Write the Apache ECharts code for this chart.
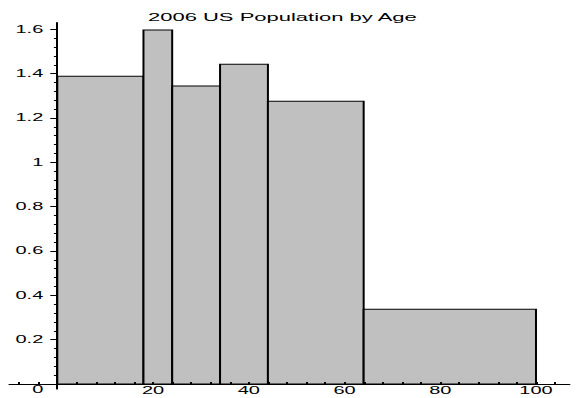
<!DOCTYPE html>
<html>
<head>
<meta charset="utf-8">
<script src="https://cdn.jsdelivr.net/npm/echarts@6/dist/echarts.min.js"></script>
<style>
html,body{margin:0;padding:0;background:#fff;overflow:hidden;}
#c{width:288.5px;height:398px;transform:scaleX(2);transform-origin:0 0;}
</style>
</head>
<body>
<div id="c"></div>
<script>
// ---- data ----
const titleText = '2006 US Population by Age';
const binEdges = [0, 18, 24, 34, 44, 64, 100];
const heights = [1.388, 1.597, 1.344, 1.442, 1.276, 0.337];
const xTickLabels = [20, 40, 60, 80, 100];
const xMinorTicks = [4, 8, 12, 16, 20, 24, 28, 32, 36, 40, 44, 48, 52, 56, 60, 64, 68, 72, 76, 80, 84, 88, 92, 96, 100, 104];
const xNegTicks = [-8, -4];
const yTickLabels = [0, 0.2, 0.4, 0.6, 0.8, 1.0, 1.2, 1.4, 1.6];
const yMinorTicks = [0.04, 0.08, 0.12, 0.16, 0.24, 0.28, 0.32, 0.36, 0.44, 0.48, 0.52, 0.56, 0.64, 0.68, 0.72, 0.76, 0.84, 0.88, 0.92, 0.96, 1.04, 1.08, 1.12, 1.16, 1.24, 1.28, 1.32, 1.36, 1.44, 1.48, 1.52, 1.56];

const barData = heights.map((h, i) => [binEdges[i], binEdges[i + 1], h]);

const FONT = 'Liberation Sans, Arial, Helvetica, sans-serif';
const chart = echarts.init(document.getElementById('c'), null, {renderer: 'svg', width: 288.5, height: 398});

chart.setOption({
  animation: false,
  backgroundColor: '#fff',
  title: {
    text: titleText,
    left: 74, top: 12, padding: 0,
    textStyle: {fontFamily: FONT, fontSize: 11, fontWeight: 'normal', color: '#000'}
  },
  grid: [
    {left: 28.65, right: 3.75, top: 22.7, bottom: 14, containLabel: false, outerBoundsMode: 'none'},
    {left: 4.7, width: 23.95, top: 22.7, bottom: 9, containLabel: false, outerBoundsMode: 'none'}
  ],
  xAxis: [{
    gridIndex: 0, type: 'value', min: 0, max: 107, z: 5,
    splitLine: {show: false},
    axisLine: {lineStyle: {color: '#000', width: 1}},
    axisTick: {show: true, inside: true, length: 2, customValues: xMinorTicks, lineStyle: {color: '#000'}},
    axisLabel: {customValues: xTickLabels, margin: 2, fontSize: 10, fontFamily: FONT, color: '#000'}
  }, {
    gridIndex: 1, type: 'value', min: -10, max: 0, z: 5,
    splitLine: {show: false},
    axisLine: {onZero: true, lineStyle: {color: '#000', width: 1}},
    axisTick: {show: true, inside: true, length: 2, customValues: xNegTicks, lineStyle: {color: '#000'}},
    axisLabel: {show: false}
  }],
  yAxis: [{
    gridIndex: 0, type: 'value', min: 0, max: 1.63, z: 5,
    splitLine: {show: false},
    axisLine: {lineStyle: {color: '#000', width: 1}},
    axisTick: {show: true, length: 3.5, customValues: yTickLabels, lineStyle: {color: '#000'}},
    axisLabel: {
      customValues: yTickLabels, margin: 7, fontSize: 10, fontFamily: FONT, color: '#000',
      formatter: v => (Math.abs(v) < 1e-9 ? '{z|0}' : String(+v.toFixed(1))),
      rich: {z: {padding: [12, 0, 0, 0], fontSize: 10, fontFamily: FONT, color: '#000'}}
    }
  }, {
    gridIndex: 0, type: 'value', min: 0, max: 1.63, position: 'left', z: 5,
    splitLine: {show: false},
    axisLine: {show: false},
    axisTick: {show: true, length: 1.7, customValues: yMinorTicks, lineStyle: {color: '#000'}},
    axisLabel: {show: false}
  }, {
    gridIndex: 1, type: 'value', min: -0.0226, max: 1.63, position: 'right', z: 5,
    splitLine: {show: false},
    axisLine: {show: true, onZero: false, lineStyle: {color: '#000', width: 1}},
    axisTick: {show: false},
    axisLabel: {show: false}
  }],
  series: [{
    type: 'custom',
    xAxisIndex: 0, yAxisIndex: 0,
    data: barData,
    encode: {x: [0, 1], y: 2},
    z: 2,
    renderItem: function (params, api) {
      const x0 = api.value(0), x1 = api.value(1), h = api.value(2);
      const p0 = api.coord([x0, 0]);
      const p1 = api.coord([x1, h]);
      return {
        type: 'rect',
        shape: {x: p0[0], y: p1[1], width: p1[0] - p0[0], height: p0[1] - p1[1]},
        style: {fill: '#c0c0c0', stroke: '#000', lineWidth: 1}
      };
    }
  }]
});
</script>
</body>
</html>
